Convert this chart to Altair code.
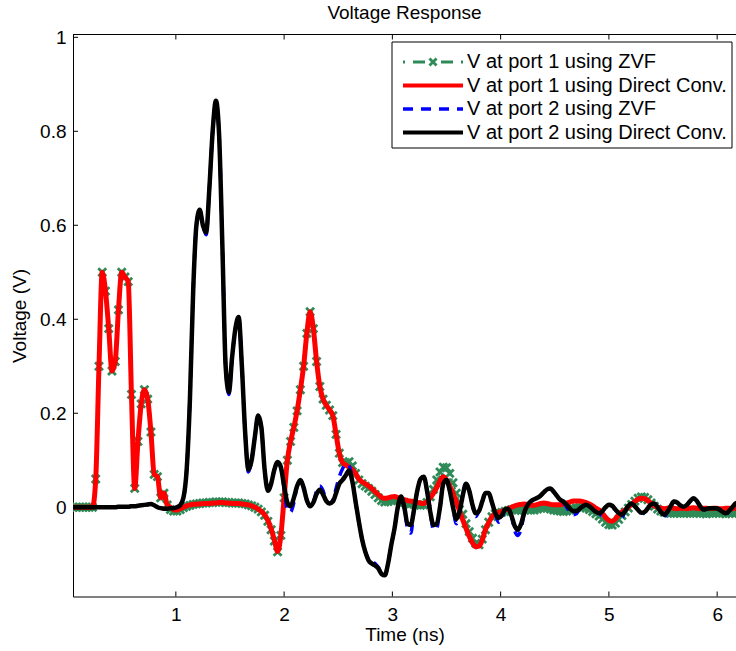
import altair as alt
import pandas as pd

# ---------------- data ----------------
# uniform sampling grid: 0.05 ns .. 6.20 ns, step 0.03 ns (206 samples)
time_ns = [round(0.05 + 0.03 * i, 2) for i in range(206)]

v1_direct = [
    0, 0, 0, 0, 0, 0, 0, 0.06, 0.30, 0.50,
    0.46, 0.38, 0.29, 0.31, 0.42, 0.50, 0.49, 0.48, 0.24, 0.04,
    0.14, 0.22, 0.25, 0.23, 0.16, 0.07, 0.065, 0.02, 0.03, 0.005,
    0.0, -0.005, -0.006, -0.003, 0.0, 0.003, 0.005, 0.006, 0.007, 0.007,
    0.008, 0.008, 0.008, 0.009, 0.009, 0.01, 0.01, 0.009, 0.009, 0.008,
    0.008, 0.008, 0.007, 0.006, 0.005, 0.003, 0.0, -0.004, -0.009, -0.016,
    -0.028, -0.046, -0.07, -0.094, -0.06, 0.02, 0.10, 0.14, 0.17, 0.205,
    0.25, 0.30, 0.37, 0.416, 0.38, 0.31, 0.257, 0.23, 0.217, 0.207,
    0.195, 0.155, 0.115, 0.095, 0.09, 0.085, 0.08, 0.072, 0.06, 0.054,
    0.05, 0.045, 0.04, 0.033, 0.027, 0.021, 0.019, 0.02, 0.022, 0.023,
    0.02, 0.017, 0.016, 0.014, 0.013, 0.012, 0.01, 0.009, 0.008, 0.012,
    0.02, 0.03, 0.042, 0.056, 0.065, 0.058, 0.045, 0.03, 0.012, -0.008,
    -0.027, -0.045, -0.062, -0.076, -0.084, -0.083, -0.07, -0.047, -0.033, -0.02,
    -0.014, -0.011, -0.009, -0.006, -0.003, 0.0, 0.003, 0.005, 0.006, 0.007,
    0.006, 0.004, 0.004, 0.006, 0.008, 0.009, 0.008, 0.006, 0.005, 0.005,
    0.005, 0.007, 0.009, 0.011, 0.013, 0.013, 0.013, 0.012, 0.01, 0.007,
    0.003, -0.002, -0.006, -0.013, -0.022, -0.028, -0.03, -0.025, -0.016, -0.01,
    -0.006, 0.0, 0.006, 0.012, 0.017, 0.019, 0.018, 0.014, 0.008, 0.003,
    0.0, -0.002, -0.003, -0.002, -0.001, -0.002, -0.003, -0.002, -0.002, -0.003,
    -0.002, -0.001, -0.002, -0.003, -0.002, -0.002, -0.003, -0.002, -0.002, -0.003,
    -0.003, -0.002, -0.002, -0.003, -0.002, -0.002,
]

v1_zvf = [
    0, 0, 0, 0, 0, 0, 0, 0.06, 0.30, 0.50,
    0.46, 0.38, 0.29, 0.31, 0.42, 0.50, 0.49, 0.48, 0.24, 0.04,
    0.14, 0.22, 0.25, 0.23, 0.16, 0.07, 0.065, 0.02, 0.03, 0.005,
    -0.005, -0.008, -0.008, -0.005, -0.001, 0.002, 0.004, 0.006, 0.007, 0.008,
    0.009, 0.009, 0.01, 0.01, 0.011, 0.011, 0.011, 0.01, 0.01, 0.009,
    0.009, 0.009, 0.008, 0.007, 0.005, 0.003, 0.0, -0.004, -0.01, -0.017,
    -0.03, -0.048, -0.072, -0.095, -0.06, 0.02, 0.10, 0.14, 0.17, 0.205,
    0.25, 0.30, 0.37, 0.416, 0.38, 0.31, 0.257, 0.23, 0.217, 0.207,
    0.195, 0.155, 0.115, 0.095, 0.095, 0.097, 0.088, 0.072, 0.058, 0.05,
    0.045, 0.04, 0.034, 0.027, 0.02, 0.014, 0.011, 0.012, 0.014, 0.016,
    0.014, 0.012, 0.01, 0.008, 0.007, 0.006, 0.005, 0.004, 0.005, 0.01,
    0.022, 0.038, 0.058, 0.075, 0.085, 0.084, 0.072, 0.052, 0.03, 0.008,
    -0.015, -0.035, -0.052, -0.066, -0.077, -0.08, -0.068, -0.048, -0.032, -0.02,
    -0.014, -0.012, -0.011, -0.009, -0.007, -0.005, -0.004, -0.006, -0.007, -0.006,
    -0.005, -0.006, -0.006, -0.004, -0.002, -0.001, -0.002, -0.004, -0.006, -0.007,
    -0.008, -0.009, -0.008, -0.006, -0.003, -0.001, 0.0, 0.0, -0.002, -0.005,
    -0.009, -0.014, -0.019, -0.025, -0.032, -0.037, -0.038, -0.034, -0.026, -0.018,
    -0.01, -0.002, 0.006, 0.013, 0.019, 0.022, 0.021, 0.016, 0.009, 0.002,
    -0.004, -0.008, -0.011, -0.012, -0.013, -0.013, -0.012, -0.013, -0.013, -0.012,
    -0.013, -0.013, -0.012, -0.013, -0.013, -0.014, -0.013, -0.013, -0.012, -0.013,
    -0.013, -0.014, -0.013, -0.012, -0.013, -0.013,
]

v2_direct = [
    0, 0, 0, 0, 0, 0, 0, 0, 0, 0,
    0, 0, 0, 0, 0.001, 0.001, 0.001, 0.001, 0.002, 0.002,
    0.003, 0.004, 0.005, 0.006, 0.007, 0.004, 0.0, -0.002, -0.003, -0.003,
    -0.002, -0.002, 0.0, 0.004, 0.02, 0.08, 0.23, 0.46, 0.60, 0.633,
    0.60, 0.585, 0.68, 0.80, 0.865, 0.79, 0.554, 0.30, 0.245, 0.32,
    0.38, 0.405, 0.30, 0.16, 0.08, 0.10, 0.15, 0.195, 0.17, 0.08,
    0.035, 0.05, 0.08, 0.096, 0.085, 0.045, 0.01, 0.002, 0.02, 0.045,
    0.058, 0.042, 0.015, 0.002, 0.01, 0.028, 0.037, 0.027, 0.013, 0.008,
    0.012, 0.03, 0.05, 0.058, 0.068, 0.078, 0.055, 0.012, -0.03, -0.068,
    -0.095, -0.113, -0.12, -0.124, -0.13, -0.142, -0.145, -0.12, -0.08, -0.045,
    0.0, 0.023, 0.0, -0.035, -0.038, -0.005, 0.035, 0.06, 0.065, 0.035,
    -0.01, -0.038, -0.035, 0.0, 0.05, 0.058, 0.035, 0.0, -0.025, -0.01,
    0.025, 0.05, 0.035, 0.005, -0.013, -0.008, 0.012, 0.03, 0.03, 0.01,
    -0.012, -0.023, -0.018, -0.005, -0.003, -0.018, -0.04, -0.048, -0.035, -0.01,
    0.005, 0.013, 0.017, 0.02, 0.025, 0.032, 0.038, 0.04, 0.033, 0.024,
    0.016, 0.012, 0.005, -0.003, -0.008, -0.008, -0.003, 0.002, 0.005, 0.002,
    -0.004, -0.01, -0.013, -0.008, 0.0, 0.005, 0.003, -0.005, -0.012, -0.016,
    -0.008, 0.003, 0.008, 0.002, -0.006, -0.012, -0.01, -0.002, 0.006, 0.008,
    0.0, -0.01, -0.016, -0.01, 0.002, 0.012, 0.01, 0.004, 0.001, 0.005,
    0.013, 0.019, 0.014, 0.003, -0.005, -0.004, -0.002, -0.002, -0.002, -0.005,
    -0.01, -0.013, -0.008, 0.0, 0.008, 0.01,
]

v2_zvf = [
    0, 0, 0, 0, 0, 0, 0, 0, 0, 0,
    0, 0, 0, 0, 0.001, 0.001, 0.001, 0.001, 0.002, 0.002,
    0.003, 0.004, 0.005, 0.006, 0.007, 0.004, 0.0, -0.002, -0.003, -0.003,
    -0.002, -0.002, 0.0, 0.004, 0.02, 0.08, 0.23, 0.46, 0.60, 0.633,
    0.60, 0.58, 0.68, 0.80, 0.86, 0.79, 0.554, 0.30, 0.24, 0.32,
    0.38, 0.405, 0.30, 0.16, 0.075, 0.10, 0.15, 0.195, 0.17, 0.08,
    0.035, 0.05, 0.08, 0.096, 0.085, 0.04, -0.005, -0.01, 0.01, 0.045,
    0.058, 0.042, 0.015, 0.002, 0.01, 0.035, 0.045, 0.035, 0.013, 0.008,
    0.015, 0.04, 0.065, 0.082, 0.092, 0.088, 0.06, 0.012, -0.03, -0.068,
    -0.095, -0.11, -0.115, -0.12, -0.128, -0.14, -0.145, -0.12, -0.08, -0.045,
    0.0, 0.023, 0.0, -0.045, -0.055, -0.005, 0.035, 0.06, 0.065, 0.035,
    -0.01, -0.048, -0.045, 0.0, 0.05, 0.058, 0.035, 0.0, -0.035, -0.01,
    0.025, 0.05, 0.035, 0.005, -0.02, -0.008, 0.012, 0.03, 0.03, 0.01,
    -0.012, -0.032, -0.025, -0.005, -0.003, -0.018, -0.05, -0.06, -0.045, -0.01,
    0.005, 0.013, 0.017, 0.02, 0.025, 0.032, 0.038, 0.04, 0.033, 0.024,
    0.016, 0.01, 0.0, -0.01, -0.016, -0.014, -0.003, 0.002, 0.005, 0.002,
    -0.004, -0.01, -0.018, -0.008, 0.0, 0.005, 0.003, -0.005, -0.012, -0.022,
    -0.008, 0.003, 0.008, 0.002, -0.006, -0.017, -0.01, -0.002, 0.006, 0.008,
    0.0, -0.01, -0.021, -0.01, 0.002, 0.012, 0.01, 0.004, 0.001, 0.005,
    0.013, 0.019, 0.014, 0.003, -0.005, -0.004, -0.002, -0.002, -0.002, -0.005,
    -0.01, -0.018, -0.008, 0.0, 0.008, 0.01,
]

legend_labels = [
    "V at port 1 using ZVF",
    "V at port 1 using Direct Conv.",
    "V at port 2 using ZVF",
    "V at port 2 using Direct Conv.",
]
x_ticks = [1, 2, 3, 4, 5, 6]
y_ticks = [0, 0.2, 0.4, 0.6, 0.8, 1]

# ---------------- styling ----------------
W, H = 663, 562
FONT = "Liberation Sans"
GREEN, RED, BLUE, BLACK = "#2E8B57", "#FF0000", "#0000FF", "#000000"
XSHAPE = "M-1,-1L1,1M-1,1L1,-1"

df = pd.DataFrame({"t": time_ns, "v1_zvf": v1_zvf, "v1_dc": v1_direct,
                   "v2_zvf": v2_zvf, "v2_dc": v2_direct})
xt_df = pd.DataFrame({"xt": x_ticks})
yt_df = pd.DataFrame({"yt": y_ticks})
one = pd.DataFrame({"k": [0]})
leg_df = pd.DataFrame({"label": legend_labels})

xscale = alt.Scale(domain=[0.05, 6.174], nice=False, zero=False)
yscale = alt.Scale(domain=[-0.19, 1.006], nice=False, zero=False)
xaxis = alt.Axis(values=x_ticks, title="Time (ns)", labelPadding=9, titlePadding=1,
                 format="~g")
yaxis = alt.Axis(values=y_ticks, title="Voltage (V)", labelPadding=7, titlePadding=10,
                 format="~g")


def X(field):
    return alt.X(f"{field}:Q", scale=xscale, axis=xaxis)


def Y(field):
    return alt.Y(f"{field}:Q", scale=yscale, axis=yaxis)


base = alt.Chart(df)

green_line = base.mark_line(color=GREEN, strokeWidth=2, strokeDash=[7, 3, 1.5, 3],
                            interpolate="monotone", clip=True).encode(x=X("t"), y=Y("v1_zvf"))
green_pts = base.mark_point(shape=XSHAPE, filled=False, size=62, strokeWidth=2.8,
                            color=GREEN, opacity=1, clip=True).encode(x=X("t"), y=Y("v1_zvf"))
red_line = base.mark_line(color=RED, strokeWidth=5, interpolate="monotone",
                          clip=True).encode(x=X("t"), y=Y("v1_dc"))
blue_line = base.mark_line(color=BLUE, strokeWidth=3.5, strokeDash=[10, 7],
                           interpolate="monotone", clip=True).encode(x=X("t"), y=Y("v2_zvf"))
black_line = base.mark_line(color=BLACK, strokeWidth=4.5, interpolate="monotone",
                            clip=True).encode(x=X("t"), y=Y("v2_dc"))

# inward tick marks and top frame line
bt = alt.Chart(xt_df).mark_rule(color="black", strokeWidth=1).encode(
    x=X("xt"), y=alt.value(H), y2=alt.value(H - 5))
tt = alt.Chart(xt_df).mark_rule(color="black", strokeWidth=1).encode(
    x=X("xt"), y=alt.value(0), y2=alt.value(5))
lt = alt.Chart(yt_df).mark_rule(color="black", strokeWidth=1).encode(
    y=Y("yt"), x=alt.value(0), x2=alt.value(5))
top_line = alt.Chart(one).mark_rule(color="black", strokeWidth=1).encode(
    x=alt.value(0), x2=alt.value(W), y=alt.value(0))

# legend
LX0, LX1, LY0, LY1 = 319, 659, 7.5, 113.5
rows = [27.5, 51, 74.5, 98]
sym0, sym1, txt_x = 330, 390, 394
leg_box = alt.Chart(one).mark_rect(fill="white", stroke="black", strokeWidth=1).encode(
    x=alt.value(LX0), x2=alt.value(LX1), y=alt.value(LY0), y2=alt.value(LY1))
leg_sym = [
    alt.Chart(one).mark_rule(color=GREEN, strokeWidth=3,
                             strokeDash=[2, 8, 12, 16, 12, 8, 2, 50]).encode(
        x=alt.value(sym0), x2=alt.value(sym1), y=alt.value(rows[0])),
    alt.Chart(one).mark_point(shape=XSHAPE, filled=False, size=50, strokeWidth=2.8,
                              color=GREEN, opacity=1).encode(
        x=alt.value((sym0 + sym1) / 2), y=alt.value(rows[0])),
    alt.Chart(one).mark_rule(color=RED, strokeWidth=4).encode(
        x=alt.value(sym0), x2=alt.value(sym1), y=alt.value(rows[1])),
    alt.Chart(one).mark_rule(color=BLUE, strokeWidth=3.5, strokeDash=[10, 8]).encode(
        x=alt.value(sym0), x2=alt.value(sym1), y=alt.value(rows[2])),
    alt.Chart(one).mark_rule(color=BLACK, strokeWidth=4).encode(
        x=alt.value(sym0), x2=alt.value(sym1), y=alt.value(rows[3])),
]
leg_txt = [
    alt.Chart(leg_df).transform_filter(alt.datum.label == lab).mark_text(
        align="left", baseline="middle", font=FONT, fontSize=20, color="black").encode(
        text="label:N", x=alt.value(txt_x), y=alt.value(rows[k]))
    for k, lab in enumerate(legend_labels)
]

chart = alt.layer(
    green_line, green_pts, red_line, blue_line, black_line,
    bt, tt, lt, top_line,
    leg_box, *leg_sym, *leg_txt,
).properties(
    width=W, height=H,
    title=alt.TitleParams("Voltage Response", font=FONT, fontSize=19,
                          fontWeight="normal", color="black", offset=5, anchor="middle"),
    padding={"left": 73, "top": 34.5, "right": 0, "bottom": 54.5},
    autosize=alt.AutoSizeParams(type="none"),
).configure_view(stroke=None).configure_axis(
    labelFont=FONT, titleFont=FONT, labelFontSize=19, titleFontSize=19,
    titleFontWeight="normal", labelColor="black", titleColor="black",
    domainColor="black", domainWidth=1, ticks=False, grid=False,
)

chart.save("out.html", embed_options={"renderer": "svg", "actions": False})
